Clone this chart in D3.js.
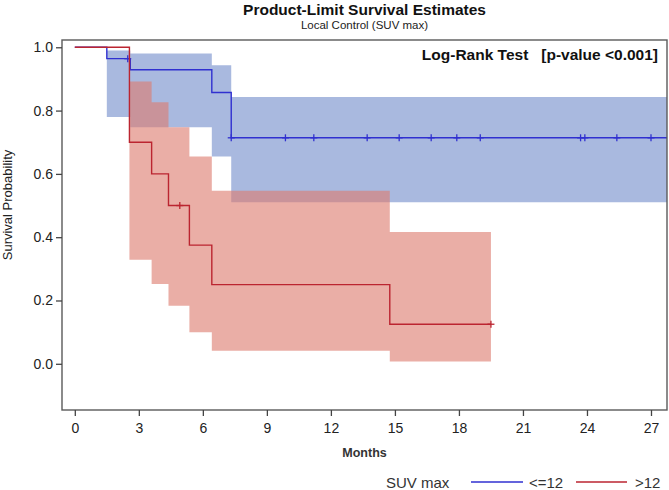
<!DOCTYPE html>
<html>
<head>
<meta charset="utf-8">
<script src="https://cdn.jsdelivr.net/npm/d3@7"></script>
<style>
html,body{margin:0;padding:0;background:#fff;}
svg{display:block;font-family:"Liberation Sans",Arial,sans-serif;}
</style>
</head>
<body>
<svg id="chart" width="669" height="490"></svg>
<script>
// ---- data ----
const xTicks = [0,3,6,9,12,15,18,21,24,27];
const yTicks = [0.0,0.2,0.4,0.6,0.8,1.0];

const lowTimes  = [0, 1.5, 2.6, 6.42, 7.33];
const lowSurv   = [1.0, 0.964, 0.929, 0.857, 0.714];
const lowLower  = [1.0, 0.78, 0.747, 0.655, 0.51];
const lowUpper  = [1.0, 0.99, 0.98, 0.943, 0.843];
const lowEnd    = 28.5;
const lowCensor = [2.48, 7.33, 9.87, 11.2, 13.7, 15.2, 16.7, 17.9, 19.0, 23.7, 23.9, 25.4, 27.0];

const highTimes  = [0, 2.56, 3.6, 4.39, 5.37, 6.42, 14.76];
const highSurv   = [1.0, 0.7, 0.6, 0.5, 0.375, 0.25, 0.125];
const highLower  = [1.0, 0.329, 0.252, 0.183, 0.1, 0.041, 0.007];
const highUpper  = [1.0, 0.892, 0.826, 0.747, 0.655, 0.547, 0.416];
const highEnd    = 19.5;
const highCensor = [4.92, 19.5];

const groups = [
  {name:"<=12", times:lowTimes, surv:lowSurv, lower:lowLower, upper:lowUpper, end:lowEnd, censor:lowCensor,
   line:"#3030d0", band:"#a9b9df", bandOpacity:1},
  {name:">12", times:highTimes, surv:highSurv, lower:highLower, upper:highUpper, end:highEnd, censor:highCensor,
   line:"#bb2530", band:"rgb(221,124,112)", bandOpacity:0.62}
];

// ---- layout ----
const frame = {left:62, right:667, top:40, bottom:410};
const x = d3.scaleLinear().domain([-0.6, 27.75]).range([frame.left, frame.right]);
const y = d3.scaleLinear().domain([-0.146, 1.023]).range([frame.bottom, frame.top]);

const svg = d3.select("#chart");

// title
svg.append("text").attr("x",(frame.left+frame.right)/2).attr("y",15)
  .attr("text-anchor","middle").attr("font-size",15.5).attr("font-weight","bold").attr("fill","#111")
  .text("Product-Limit Survival Estimates");
svg.append("text").attr("x",(frame.left+frame.right)/2).attr("y",29)
  .attr("text-anchor","middle").attr("font-size",11.5).attr("fill","#222")
  .text("Local Control (SUV max)");

svg.append("clipPath").attr("id","clip").append("rect")
  .attr("x",frame.left).attr("y",frame.top)
  .attr("width",frame.right-frame.left).attr("height",frame.bottom-frame.top);

const plot = svg.append("g").attr("clip-path","url(#clip)");

function pts(g){
  const p = g.times.map((t,i)=>({t, s:g.surv[i], lo:g.lower[i], hi:g.upper[i]}));
  const last = p[p.length-1];
  p.push({t:g.end, s:last.s, lo:last.lo, hi:last.hi});
  return p;
}

const area = d3.area().curve(d3.curveStepAfter)
  .x(d=>x(d.t)).y0(d=>y(d.lo)).y1(d=>y(d.hi));
const line = d3.line().curve(d3.curveStepAfter)
  .x(d=>x(d.t)).y(d=>y(d.s));

groups.forEach(g=>{
  plot.append("path").datum(pts(g)).attr("d",area)
    .attr("fill",g.band).attr("fill-opacity",g.bandOpacity).attr("stroke","none");
});
groups.forEach(g=>{
  plot.append("path").datum(pts(g)).attr("d",line)
    .attr("fill","none").attr("stroke",g.line).attr("stroke-width",1.4);
  const stepVal = t => {
    let v = g.surv[0];
    g.times.forEach((tt,i)=>{ if (tt<=t) v=g.surv[i]; });
    return v;
  };
  const cm = plot.append("g");
  g.censor.forEach(t=>{
    const cx = x(t), cy = y(stepVal(t));
    cm.append("line").attr("x1",cx).attr("x2",cx).attr("y1",cy-3.5).attr("y2",cy+3.5)
      .attr("stroke",g.line).attr("stroke-width",1.3);
    cm.append("line").attr("x1",cx-3.5).attr("x2",cx+3.5).attr("y1",cy).attr("y2",cy)
      .attr("stroke",g.line).attr("stroke-width",1.3);
  });
});

// frame
svg.append("rect").attr("x",frame.left).attr("y",frame.top)
  .attr("width",frame.right-frame.left).attr("height",frame.bottom-frame.top)
  .attr("fill","none").attr("stroke","#5a5a5a").attr("stroke-width",1.4);

// axes
const xAxis = svg.append("g").attr("transform",`translate(0,${frame.bottom})`)
  .call(d3.axisBottom(x).tickValues(xTicks).tickSize(6).tickSizeOuter(0).tickPadding(7).tickFormat(d3.format("d")));
xAxis.select(".domain").remove();
xAxis.selectAll("line").attr("stroke","#444").attr("stroke-width",1.3);
xAxis.selectAll("text").attr("font-size",14).attr("fill","#222")
  .attr("font-family","'Liberation Sans',Arial,sans-serif");

const yAxis = svg.append("g").attr("transform",`translate(${frame.left},0)`)
  .call(d3.axisLeft(y).tickValues(yTicks).tickSize(6).tickSizeOuter(0).tickPadding(3).tickFormat(d3.format(".1f")));
yAxis.select(".domain").remove();
yAxis.selectAll("line").attr("stroke","#444").attr("stroke-width",1.3);
yAxis.selectAll("text").attr("font-size",14).attr("fill","#222")
  .attr("font-family","'Liberation Sans',Arial,sans-serif");

// axis labels
svg.append("text").attr("x",(frame.left+frame.right)/2).attr("y",457)
  .attr("text-anchor","middle").attr("font-size",12.5).attr("font-weight","bold").attr("fill","#333")
  .text("Months");
svg.append("text").attr("transform","translate(12,205) rotate(-90)")
  .attr("text-anchor","middle").attr("font-size",13).attr("fill","#222")
  .text("Survival Probability");

// log-rank annotation
svg.append("text").attr("x",658).attr("y",60)
  .attr("text-anchor","end").attr("font-size",15.5).attr("font-weight","bold").attr("fill","#111")
  .text("Log-Rank Test\u00a0\u00a0\u00a0[p-value <0.001]");

// legend
const lg = svg.append("g").attr("font-size",15).attr("fill","#333");
lg.append("text").attr("x",386).attr("y",488).attr("fill","#333").text("SUV max");
const legendItems = [{g:groups[0], x1:471, x2:523, tx:529},{g:groups[1], x1:576, x2:627, tx:635}];
legendItems.forEach(it=>{
  lg.append("line").attr("x1",it.x1).attr("x2",it.x2).attr("y1",482).attr("y2",482)
    .attr("stroke",it.g.line).attr("stroke-width",1.4);
  lg.append("text").attr("x",it.tx).attr("y",488).attr("fill","#333").text(it.g.name);
});
</script>
</body>
</html>
